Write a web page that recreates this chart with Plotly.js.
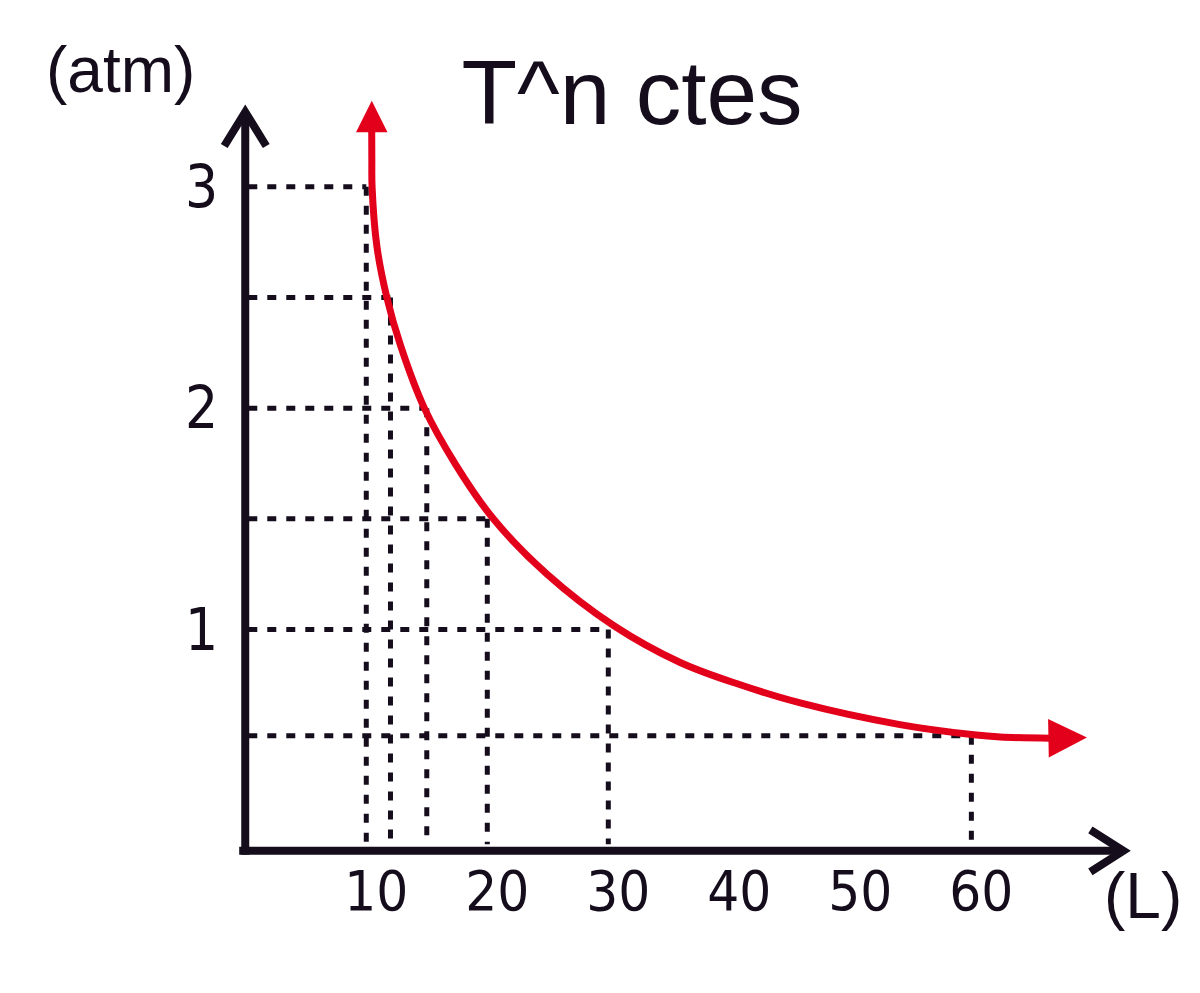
<!DOCTYPE html>
<html>
<head>
<meta charset="utf-8">
<script src="https://cdn.plot.ly/plotly-3.0.1.min.js"></script>
<style>html,body{margin:0;padding:0;background:#fff;}#chart{width:1200px;height:993px;}</style>
</head>
<body>
<div id="chart"></div>
<script>
// ---- data ----
const titleText = 'T^n ctes';
const yUnitLabel = '(atm)';
const xUnitLabel = '(L)';
const xTickVals = [10, 20, 30, 40, 50, 60];
const xTickText = ['10', '20', '30', '40', '50', '60'];
const yTickVals = [1, 2, 3];
const yTickText = ['1', '2', '3'];
// reference points (V in L, P in atm) marked with dashed guides
const guideV = [10, 12, 15, 20, 30, 60];
const guideP = [3, 2.5, 2, 1.5, 1, 0.52];
// the drawn isotherm
const curveV = [10.45, 10.46, 10.48, 10.88, 11.7, 12.85, 14.8, 17.4, 20.5, 24.93, 30.43, 35.94, 40.9, 45.86, 54.1, 60.2, 62.4, 66.5];
const curveP = [3.26, 3.12, 3.0, 2.73, 2.50, 2.28, 2.00, 1.744, 1.50, 1.25, 1.018, 0.851, 0.75, 0.668, 0.57, 0.524, 0.514, 0.509];
const curveTip = [10.45, 3.389];     // top arrow tip
const curveEndTip = [69.55, 0.512];  // right arrow tip
const yAxisTip = 3.338;
const xAxisTip = 72.56;

const ink = '#150d1c';
const red = '#e3001b';

// plot area: 950 x 830 px
const XR = [-2.5, 76], YR = [-0.15, 3.6];
const pxX = (XR[1] - XR[0]) / 950, pxY = (YR[1] - YR[0]) / 830;

// dashed guide segments
const hx = [], hy = [], vx = [], vy = [];
for (let i = 0; i < guideV.length; i++) {
  hx.push(0.25, guideV[i], null); hy.push(guideP[i], guideP[i], null);
  vx.push(guideV[i], guideV[i], null); vy.push(guideP[i], 0.03, null);
}

// axes with open arrow heads
const axX = [-0.5, xAxisTip, null, xAxisTip - 33 * pxX, xAxisTip, xAxisTip - 33 * pxX, null, 0, 0, null, -21 * pxX, 0, 21 * pxX];
const axY = [0, 0, null, 21 * pxY, 0, -21 * pxY, null, -0.018, yAxisTip, null, yAxisTip - 34 * pxY, yAxisTip, yAxisTip - 34 * pxY];

const traces = [
  {x: hx, y: hy, mode: 'lines', line: {color: ink, width: 5, dash: '9px,10px'}, hoverinfo: 'skip', showlegend: false},
  {x: vx, y: vy, mode: 'lines', line: {color: ink, width: 5, dash: '9px,10px'}, hoverinfo: 'skip', showlegend: false},
  {x: curveV, y: curveP, mode: 'lines', line: {color: red, width: 7, shape: 'spline', smoothing: 1}, hoverinfo: 'skip', showlegend: false},
  {x: axX, y: axY, mode: 'lines', line: {color: ink, width: 8}, hoverinfo: 'skip', showlegend: false}
];

const layout = {
  width: 1200, height: 993, autosize: false,
  margin: {l: 215, r: 35, t: 54, b: 109, pad: 0},
  paper_bgcolor: '#ffffff', plot_bgcolor: '#ffffff',
  showlegend: false,
  title: {
    text: titleText,
    font: {family: 'Liberation Sans, Arial, sans-serif', size: 91, color: ink},
    x: 632 / 1200, xanchor: 'center', xref: 'container',
    y: 1 - 60 / 993, yanchor: 'top', yref: 'container'
  },
  xaxis: {
    range: XR, showgrid: false, zeroline: false, showline: false, ticks: '',
    anchor: 'free', position: (0 - YR[0]) / (YR[1] - YR[0]),
    tickvals: xTickVals, ticktext: xTickText,
    tickfont: {family: 'DejaVu Sans Condensed, sans-serif', size: 56, color: ink},
    ticklabelshift: 10, ticklabelstandoff: 2, fixedrange: true
  },
  yaxis: {
    range: YR, showgrid: false, zeroline: false, showline: false, ticks: '',
    anchor: 'free', position: (0 - XR[0]) / (XR[1] - XR[0]),
    tickvals: yTickVals, ticktext: yTickText,
    tickfont: {family: 'DejaVu Sans Condensed, sans-serif', size: 58, color: ink},
    ticklabelstandoff: 27, fixedrange: true
  },
  annotations: [
    // curve arrow heads
    {x: curveTip[0], y: curveTip[1], ax: curveV[0], ay: curveP[0], xref: 'x', yref: 'y', axref: 'x', ayref: 'y',
     text: '', showarrow: true, arrowhead: 2, arrowsize: 0.9, arrowwidth: 7, arrowcolor: red, standoff: 0},
    {x: curveEndTip[0], y: curveEndTip[1], ax: curveV[curveV.length - 1], ay: curveP[curveP.length - 1], xref: 'x', yref: 'y', axref: 'x', ayref: 'y',
     text: '', showarrow: true, arrowhead: 2, arrowsize: 1.1, arrowwidth: 7, arrowcolor: red, standoff: 0},
    // unit labels
    {text: yUnitLabel, xref: 'paper', yref: 'paper', x: (44 - 215) / 950, xanchor: 'left',
     y: (884 - 70) / 830, yanchor: 'middle', showarrow: false,
     font: {family: 'Liberation Sans, Arial, sans-serif', size: 64, color: ink}},
    {text: xUnitLabel, xref: 'paper', yref: 'paper', x: (1143 - 215) / 950, xanchor: 'center',
     y: (884 - 896) / 830, yanchor: 'middle', showarrow: false,
     font: {family: 'Liberation Sans, Arial, sans-serif', size: 64, color: ink}}
  ]
};

Plotly.newPlot('chart', traces, layout, {staticPlot: true, displayModeBar: false});
</script>
</body>
</html>
